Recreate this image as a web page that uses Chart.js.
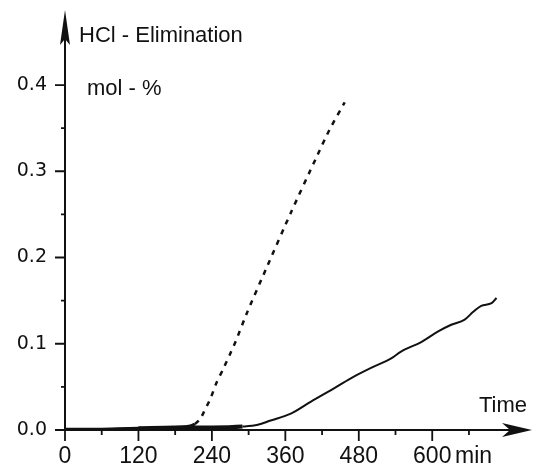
<!DOCTYPE html>
<html><head><meta charset="utf-8">
<script src="https://cdn.jsdelivr.net/npm/chart.js@4.4.1/dist/chart.umd.min.js"></script>
<style>html,body{margin:0;padding:0;background:#fff}#wrap{width:533px;height:470px}</style>
</head><body><div id="wrap"><canvas id="c" width="533" height="470"></canvas></div>
<script>
// time in min, HCl elimination in mol-%
const dashedTime  = [0, 60, 120, 180, 200, 212, 221, 227, 238, 247, 258, 269, 279, 298, 328, 369, 410, 432, 457];
const dashedValue = [0.001, 0.001, 0.002, 0.003, 0.004, 0.007, 0.013, 0.021, 0.037, 0.054, 0.070, 0.087, 0.103, 0.137, 0.186, 0.252, 0.315, 0.348, 0.380];
const solidTime  = [0, 60, 120, 180, 240, 290, 315, 336, 369, 402, 434, 467, 500, 533, 549, 582, 609, 631, 653, 667, 680, 697, 705];
const solidValue = [0.001, 0.001, 0.002, 0.003, 0.003, 0.004, 0.006, 0.011, 0.019, 0.033, 0.046, 0.060, 0.072, 0.083, 0.091, 0.102, 0.114, 0.122, 0.128, 0.137, 0.144, 0.147, 0.153];
const xTickLabels = {0:'0', 120:'120', 240:'240', 360:'360', 480:'480', 600:'600'};
const yTickLabels = {0:'0.0', 10:'0.1', 20:'0.2', 30:'0.3', 40:'0.4'};
const xMajor = [0, 120, 240, 360, 480, 600];
const xMinor = [60, 180, 300, 420, 540, 660];
const yMajor = [0, 0.1, 0.2, 0.3, 0.4];
const yMinor = [0.05, 0.15, 0.25, 0.35];
const yTitle = 'HCl - Elimination';
const yUnit = 'mol - %';
const xTitle = 'Time';
const xUnit = 'min';

const INK = '#111';
const toPts = (t, v) => t.map((x, i) => ({x, y: v[i]}));

const axesPlugin = {
  id: 'axes',
  afterDraw(chart) {
    const {ctx, scales: {x, y}} = chart;
    const x0 = x.getPixelForValue(0), y0 = y.getPixelForValue(0);
    const yTop = chart.chartArea.top, xRight = chart.chartArea.right;
    ctx.save();
    ctx.strokeStyle = INK; ctx.fillStyle = INK; ctx.lineWidth = 2;
    ctx.beginPath();
    ctx.moveTo(x0, y0 + 1); ctx.lineTo(x0, yTop + 20);
    ctx.moveTo(x0 - 1, y0); ctx.lineTo(xRight - 15, y0);
    ctx.stroke();
    // y arrow
    ctx.beginPath();
    ctx.moveTo(x0, yTop);
    ctx.lineTo(x0 + 5, yTop + 35);
    ctx.lineTo(x0, yTop + 29);
    ctx.lineTo(x0 - 5, yTop + 35);
    ctx.closePath(); ctx.fill();
    // x arrow
    ctx.beginPath();
    ctx.moveTo(xRight, y0);
    ctx.lineTo(xRight - 30, y0 - 7);
    ctx.lineTo(xRight - 22, y0);
    ctx.lineTo(xRight - 30, y0 + 7);
    ctx.closePath(); ctx.fill();
    // ticks
    ctx.lineWidth = 1.8;
    ctx.beginPath();
    xMajor.forEach(v => { const p = x.getPixelForValue(v); ctx.moveTo(p, y0); ctx.lineTo(p, y0 + 11); });
    xMinor.forEach(v => { const p = x.getPixelForValue(v); ctx.moveTo(p, y0); ctx.lineTo(p, y0 + 5); });
    yMajor.forEach(v => { const p = y.getPixelForValue(v); ctx.moveTo(x0, p); ctx.lineTo(x0 - 10, p); });
    yMinor.forEach(v => { const p = y.getPixelForValue(v); ctx.moveTo(x0, p); ctx.lineTo(x0 - 4, p); });
    ctx.stroke();
    // texts
    ctx.font = '22px "Liberation Sans", Arial, sans-serif';
    ctx.textBaseline = 'alphabetic';
    ctx.textAlign = 'left';
    ctx.fillText(yTitle, x0 + 14, 42);
    ctx.fillText(yUnit, x0 + 22, 95);
    ctx.fillText(xTitle, 479, 412);
    ctx.font = '23px "Liberation Sans", Arial, sans-serif';
    ctx.fillText(xUnit, 455, 463);
    ctx.restore();
  }
};

new Chart(document.getElementById('c'), {
  type: 'scatter',
  data: {
    datasets: [
      {
        data: toPts(dashedTime, dashedValue),
        showLine: true, pointRadius: 0, borderColor: INK, borderWidth: 2.5,
        borderDash: [5, 6], tension: 0.2,
        segment: {
          borderDash: c => c.p1.parsed.x <= 212 ? [] : [5, 6],
          borderWidth: c => c.p1.parsed.x <= 212 ? 3 : 2.5
        }
      },
      {
        data: toPts(solidTime, solidValue),
        showLine: true, pointRadius: 0, borderColor: INK, borderWidth: 2,
        cubicInterpolationMode: 'monotone',
        segment: {
          borderWidth: c => c.p1.parsed.x <= 290 ? (c.p0.parsed.x >= 100 ? 4 : 2.5) : 2
        }
      }
    ]
  },
  options: {
    responsive: false, animation: false,
    layout: {padding: {top: 10, right: 1, left: 0, bottom: 0}},
    plugins: {legend: {display: false}, tooltip: {enabled: false}},
    scales: {
      x: {
        type: 'linear', min: 0, max: 763,
        grid: {display: false, drawTicks: false, tickLength: 0},
        border: {display: false},
        ticks: {
          stepSize: 60, autoSkip: false, maxRotation: 0, padding: 13,
          color: INK, font: {family: '"Liberation Sans", Arial, sans-serif', size: 23},
          callback: v => xTickLabels[Math.round(v)] || ''
        },
        afterFit: s => { s.height = 40; s.paddingLeft = 0; s.paddingRight = 0; }
      },
      y: {
        min: 0, max: 0.487,
        grid: {display: false, drawTicks: false, tickLength: 0},
        border: {display: false},
        ticks: {
          stepSize: 0.05, autoSkip: false, padding: 18,
          color: INK, font: {family: '"DejaVu Sans", sans-serif', size: 19},
          callback: v => yTickLabels[Math.round(v * 100)] || ''
        },
        afterFit: s => { s.width = 65; s.paddingTop = 0; s.paddingBottom = 0; }
      }
    }
  },
  plugins: [axesPlugin]
});
</script>
</body></html>
